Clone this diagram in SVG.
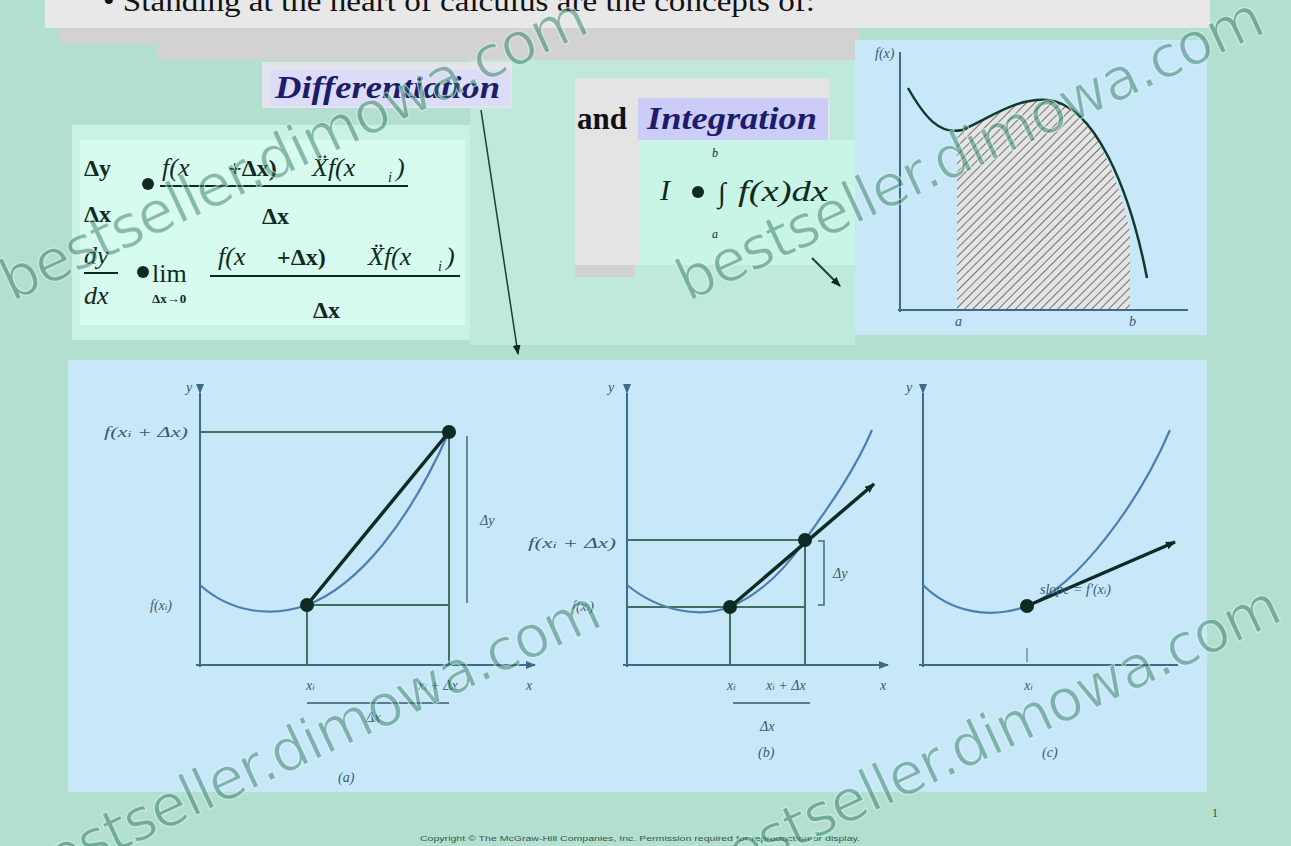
<svg xmlns="http://www.w3.org/2000/svg" width="1291" height="846" viewBox="0 0 1291 846">
<defs>
<style>
.serif{font-family:"Liberation Serif","Times New Roman",serif;}
.it{font-style:italic;}
.ax{stroke:#3d6a86;stroke-width:2;fill:none;}
.guide{stroke:#3f7060;stroke-width:2;fill:none;}
.curve{stroke:#4a7fb0;stroke-width:2.2;fill:none;}
.sec{stroke:#0e2a22;stroke-width:3.5;fill:none;}
.lbl{font-family:"Liberation Serif",serif;font-style:italic;font-size:14px;fill:#365a70;}
.wm{font-family:"DejaVu Sans",Verdana,sans-serif;font-size:58px;fill:#2f7a64;fill-opacity:0.5;stroke:#eafff8;stroke-opacity:0.6;stroke-width:1.2;}
</style>
<pattern id="hatch" width="6" height="6" patternUnits="userSpaceOnUse" patternTransform="rotate(45)">
<rect width="6" height="6" fill="#e4e4e4"/>
<line x1="0" y1="0" x2="0" y2="6" stroke="#555" stroke-width="1.6"/>
</pattern>
<marker id="ah" markerWidth="10" markerHeight="8" refX="9" refY="4" orient="auto" markerUnits="userSpaceOnUse">
<path d="M0,0 L10,4 L0,8 z" fill="#0e2a22"/>
</marker>
<marker id="ahs" markerWidth="10" markerHeight="8" refX="9" refY="4" orient="auto" markerUnits="userSpaceOnUse">
<path d="M0,0 L10,4 L0,8 z" fill="#3d6a86"/>
</marker>
</defs>

<!-- background -->
<rect x="0" y="0" width="1291" height="846" fill="#b3dfd0"/>
<rect x="45" y="0" width="1165" height="28" fill="#e8e8e8"/>
<rect x="60" y="28" width="800" height="16" fill="#d2d2d2"/>
<rect x="157" y="44" width="700" height="16" fill="#d2d2d2"/>
<rect x="470" y="60" width="385" height="285" fill="#bfe9da"/>
<rect x="72" y="125" width="398" height="215" fill="#c9f2e4"/>
<rect x="80" y="140" width="385" height="185" fill="#d8fbf0"/>

<!-- top text -->
<text x="103" y="11" class="serif" font-size="30" fill="#111" textLength="712" lengthAdjust="spacingAndGlyphs">•  Standing at the heart of calculus are the concepts of:</text>

<!-- Differentiation heading -->
<g id="diff-title">
<rect x="262" y="62" width="250" height="46" fill="#e4e4ec"/>
<rect x="270" y="70" width="240" height="36" fill="#dcdcf8"/>
<text x="275" y="98" class="serif it" font-weight="bold" font-size="31" fill="#1c1c6a" textLength="225" lengthAdjust="spacingAndGlyphs">Differentiation</text>
</g>

<!-- Differentiation formulas -->
<g id="diff-formula" class="serif" fill="#102a22">
<text x="84" y="176" font-size="24" font-weight="bold">Δy</text>
<circle cx="148" cy="184" r="6" fill="#102a22"/>
<text x="162" y="176" font-size="26" class="it">f(x</text>
<text x="228" y="176" font-size="24" font-weight="bold">+Δx)</text>
<text x="312" y="176" font-size="26" class="it">Ẍf(x</text>
<text x="388" y="182" font-size="14" class="it">i</text>
<text x="396" y="176" font-size="26" class="it">)</text>
<line x1="160" y1="186" x2="408" y2="186" stroke="#102a22" stroke-width="2"/>
<text x="84" y="222" font-size="24" font-weight="bold">Δx</text>
<text x="262" y="224" font-size="24" font-weight="bold">Δx</text>
<text x="84" y="264" font-size="26" class="it">dy</text>
<line x1="84" y1="273" x2="118" y2="273" stroke="#102a22" stroke-width="2"/>
<text x="84" y="304" font-size="26" class="it">dx</text>
<circle cx="143" cy="272" r="6" fill="#102a22"/>
<text x="152" y="282" font-size="26">lim</text>
<text x="152" y="303" font-size="13" font-weight="bold">Δx→0</text>
<text x="218" y="265" font-size="26" class="it">f(x</text>
<text x="277" y="265" font-size="24" font-weight="bold">+Δx)</text>
<text x="368" y="265" font-size="26" class="it">Ẍf(x</text>
<text x="438" y="271" font-size="14" class="it">i</text>
<text x="446" y="265" font-size="26" class="it">)</text>
<line x1="210" y1="276" x2="460" y2="276" stroke="#102a22" stroke-width="2"/>
<text x="313" y="318" font-size="24" font-weight="bold">Δx</text>
</g>

<!-- Integration heading + formula -->
<g id="int-title">
<rect x="575" y="78" width="255" height="62" fill="#e4e4e4"/>
<rect x="575" y="140" width="65" height="125" fill="#e4e4e4"/>
<rect x="575" y="265" width="60" height="12" fill="#d2d2d2"/>
<rect x="640" y="140" width="215" height="125" fill="#c8f5e6"/>
<rect x="638" y="98" width="190" height="42" fill="#ccccf8"/>
<text x="577" y="129" class="serif" font-weight="bold" font-size="31" fill="#111">and</text>
<text x="647" y="129" class="serif it" font-weight="bold" font-size="31" fill="#1c1c6a" textLength="170" lengthAdjust="spacingAndGlyphs">Integration</text>
</g>
<g id="int-formula" class="serif" fill="#102a22">
<text x="712" y="157" font-size="12" class="it">b</text>
<text x="660" y="200" font-size="30" class="it">I</text>
<circle cx="698" cy="192" r="6"/>
<text x="718" y="202" font-size="28" font-weight="bold">∫</text>
<text x="738" y="201" font-size="30" class="it" textLength="90" lengthAdjust="spacingAndGlyphs">f(x)dx</text>
<text x="712" y="238" font-size="12" class="it">a</text>
</g>

<!-- Integral graph panel -->
<g id="integral-graph">
<rect x="855" y="40" width="352" height="295" fill="#c8e8fa"/>
<path d="M957,310 L957,132 C985,118 1015,100 1047,100 C1090,100 1120,180 1130,232 L1130,310 Z" fill="url(#hatch)"/>
<line x1="900" y1="52" x2="900" y2="312" class="ax"/>
<line x1="898" y1="310" x2="1188" y2="310" class="ax"/>
<path d="M908,88 C925,118 940,135 962,130 C990,118 1015,98 1047,100 C1095,104 1130,190 1147,278" stroke="#0f3a2c" stroke-width="2.5" fill="none"/>
<text x="875" y="58" class="lbl" font-size="9">f(x)</text>
<text x="955" y="326" class="lbl" font-size="10">a</text>
<text x="1129" y="326" class="lbl" font-size="10">b</text>
</g>

<!-- bottom panel -->
<rect x="68" y="360" width="1139" height="432" fill="#c8e8fa"/>

<!-- graph (a) -->
<g id="graph-a">
<line x1="200" y1="393" x2="200" y2="667" class="ax" marker-start="url(#ahs)"/>
<line x1="196" y1="665" x2="535" y2="665" class="ax" marker-end="url(#ahs)"/>
<line x1="200" y1="432" x2="449" y2="432" class="guide"/>
<line x1="307" y1="605" x2="449" y2="605" class="guide"/>
<line x1="307" y1="605" x2="307" y2="665" class="guide"/>
<line x1="449" y1="432" x2="449" y2="665" class="guide"/>
<path d="M200,585 C230,612 270,618 307,605 C360,585 410,520 449,432" class="curve"/>
<line x1="307" y1="605" x2="449" y2="432" class="sec"/>
<circle cx="307" cy="605" r="7" fill="#0e2a22"/>
<circle cx="449" cy="432" r="7" fill="#0e2a22"/>
<line x1="467" y1="436" x2="467" y2="603" stroke="#3d6a86" stroke-width="1.5"/>
<text x="480" y="525" class="lbl" font-size="16">Δy</text>
<text x="104" y="437" class="lbl" font-size="15" textLength="84" lengthAdjust="spacingAndGlyphs">f(x<tspan font-size="9">i</tspan> + Δx)</text>
<text x="150" y="610" class="lbl">f(x<tspan font-size="9">i</tspan>)</text>
<text x="186" y="392" class="lbl">y</text>
<text x="306" y="690" class="lbl">x<tspan font-size="9">i</tspan></text>
<text x="418" y="690" class="lbl">x<tspan font-size="9">i</tspan> + Δx</text>
<text x="526" y="690" class="lbl">x</text>
<line x1="307" y1="703" x2="449" y2="703" stroke="#365a70" stroke-width="1.5"/>
<text x="366" y="722" class="lbl" font-size="15">Δx</text>
<text x="338" y="782" class="lbl" font-size="16">(a)</text>
</g>

<!-- graph (b) -->
<g id="graph-b">
<line x1="627" y1="393" x2="627" y2="667" class="ax" marker-start="url(#ahs)"/>
<line x1="623" y1="665" x2="888" y2="665" class="ax" marker-end="url(#ahs)"/>
<line x1="627" y1="540" x2="805" y2="540" class="guide"/>
<line x1="627" y1="607" x2="805" y2="607" class="guide"/>
<line x1="730" y1="607" x2="730" y2="665" class="guide"/>
<line x1="805" y1="540" x2="805" y2="665" class="guide"/>
<path d="M627,585 C660,612 700,618 730,607 C760,594 785,570 805,540 C830,505 855,470 872,430" class="curve"/>
<line x1="730" y1="607" x2="874" y2="484" class="sec" marker-end="url(#ah)"/>
<circle cx="730" cy="607" r="7" fill="#0e2a22"/>
<circle cx="805" cy="540" r="7" fill="#0e2a22"/>
<path d="M818,541 L824,541 L824,605 L818,605" stroke="#3d6a86" stroke-width="1.5" fill="none"/>
<text x="833" y="578" class="lbl" font-size="15">Δy</text>
<text x="528" y="548" class="lbl" font-size="15" textLength="88" lengthAdjust="spacingAndGlyphs">f(x<tspan font-size="9">i</tspan> + Δx)</text>
<text x="572" y="611" class="lbl">f(x<tspan font-size="9">i</tspan>)</text>
<text x="608" y="392" class="lbl">y</text>
<text x="727" y="690" class="lbl">x<tspan font-size="9">i</tspan></text>
<text x="766" y="690" class="lbl">x<tspan font-size="9">i</tspan> + Δx</text>
<text x="880" y="690" class="lbl">x</text>
<line x1="733" y1="703" x2="810" y2="703" stroke="#365a70" stroke-width="1.5"/>
<text x="760" y="731" class="lbl" font-size="15">Δx</text>
<text x="758" y="757" class="lbl" font-size="16">(b)</text>
</g>

<!-- graph (c) -->
<g id="graph-c">
<line x1="923" y1="393" x2="923" y2="667" class="ax" marker-start="url(#ahs)"/>
<line x1="919" y1="665" x2="1178" y2="665" class="ax"/>
<path d="M923,585 C950,612 990,620 1027,606 C1080,585 1140,500 1170,430" class="curve"/>
<line x1="1027" y1="606" x2="1175" y2="542" class="sec" marker-end="url(#ah)"/>
<circle cx="1027" cy="606" r="7" fill="#0e2a22"/>
<text x="1040" y="594" class="lbl">slope = f′(x<tspan font-size="9">i</tspan>)</text>
<text x="906" y="392" class="lbl">y</text>
<line x1="1027" y1="648" x2="1027" y2="662" stroke="#3d6a86" stroke-width="1"/>
<text x="1024" y="690" class="lbl">x<tspan font-size="9">i</tspan></text>
<text x="1042" y="757" class="lbl" font-size="16">(c)</text>
</g>

<!-- connectors -->
<g id="connectors">
<line x1="481" y1="110" x2="518" y2="354" stroke="#1d3d33" stroke-width="1.5" marker-end="url(#ah)"/>
<line x1="812" y1="258" x2="840" y2="286" stroke="#1d3d33" stroke-width="2" marker-end="url(#ah)"/>
</g>

<!-- footer -->
<text x="1212" y="817" font-family="Liberation Serif,serif" font-size="12" fill="#2a4a40">1</text>
<text x="420" y="841" font-family="Liberation Sans,sans-serif" font-size="8" fill="#2f5a4c" textLength="440" lengthAdjust="spacingAndGlyphs">Copyright © The McGraw-Hill Companies, Inc. Permission required for reproduction or display.</text>

<!-- watermarks -->
<g id="watermarks">
<text class="wm" x="12" y="302" transform="rotate(-25 12 302)" textLength="640">bestseller.dimowa.com</text>
<text class="wm" x="688" y="302" transform="rotate(-25 688 302)" textLength="640">bestseller.dimowa.com</text>
<text class="wm" x="25" y="895" transform="rotate(-25 25 895)" textLength="640">bestseller.dimowa.com</text>
<text class="wm" x="705" y="890" transform="rotate(-25 705 890)" textLength="640">bestseller.dimowa.com</text>
</g>
</svg>
